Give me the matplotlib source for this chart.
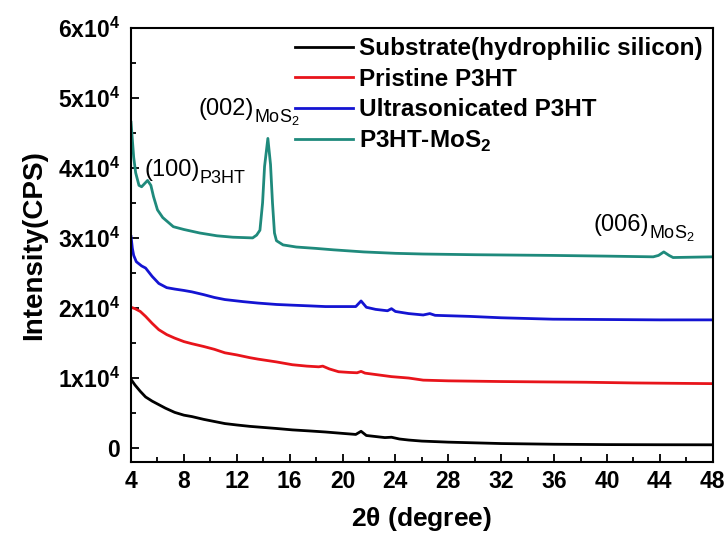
import matplotlib
matplotlib.use('Agg')
import matplotlib.pyplot as plt
from matplotlib.ticker import MultipleLocator

plt.rcParams['font.family'] = ['Liberation Sans', 'DejaVu Sans']
plt.rcParams['mathtext.fontset'] = 'custom'
plt.rcParams['mathtext.rm'] = 'Liberation Sans'
plt.rcParams['mathtext.bf'] = 'Liberation Sans:bold'

# Substrate (hydrophilic silicon)
sub_x = [4.0, 4.3, 4.7, 5.1, 5.6, 6.1, 6.6, 7.3, 8.0, 8.6, 9.5, 10.3, 11.1, 12.0,
         13.0, 14.0, 15.0, 16.2, 17.5, 18.7, 20.0, 21.0, 21.4, 21.8, 22.5, 23.2,
         23.7, 24.3, 25.0, 26.0, 28.0, 30.0, 32.0, 36.0, 40.0, 44.0, 48.0]
sub_y = [9800, 9000, 8100, 7300, 6700, 6200, 5700, 5100, 4700, 4500, 4100, 3800,
         3500, 3300, 3100, 2950, 2800, 2600, 2450, 2300, 2100, 1950, 2400, 1800,
         1650, 1500, 1550, 1300, 1150, 1000, 850, 750, 650, 550, 500, 480, 470]

# Pristine P3HT
pri_x = [4.0, 4.3, 4.7, 5.1, 5.6, 6.1, 6.7, 7.3, 8.0, 8.6, 9.5, 10.3, 11.1, 12.0,
         13.0, 13.6, 15.0, 16.2, 17.3, 18.2, 18.5, 19.0, 19.7, 20.5, 21.1, 21.4,
         21.7, 22.5, 23.7, 25.0, 26.1, 28.0, 30.0, 32.0, 35.0, 38.4, 42.0, 45.0, 48.0]
pri_y = [20100, 19900, 19500, 18800, 17800, 16900, 16200, 15700, 15200, 14900,
         14500, 14100, 13600, 13300, 12900, 12700, 12300, 11900, 11700, 11600,
         11700, 11300, 10900, 10800, 10750, 10950, 10700, 10500, 10200, 10000,
         9700, 9600, 9550, 9500, 9450, 9400, 9300, 9250, 9200]

# Ultrasonicated P3HT
ult_x = [4.0, 4.1, 4.2, 4.4, 4.8, 5.1, 5.6, 6.1, 6.7, 7.3, 8.0, 8.6, 9.5, 10.3,
         11.1, 12.5, 13.6, 15.0, 16.2, 17.5, 18.7, 20.0, 21.0, 21.4, 21.8, 22.5,
         23.4, 23.7, 24.0, 25.0, 26.1, 26.6, 27.0, 29.6, 32.0, 35.9, 40.0, 44.0, 48.0]
ult_y = [30200, 28500, 27500, 26600, 26000, 25700, 24500, 23500, 22900, 22700,
         22500, 22300, 21900, 21500, 21200, 20900, 20700, 20500, 20400, 20300,
         20200, 20200, 20200, 21000, 20100, 19800, 19600, 19900, 19500, 19200,
         19000, 19200, 18950, 18800, 18600, 18400, 18350, 18300, 18300]

# P3HT-MoS2
mos_x = [4.0, 4.1, 4.2, 4.35, 4.6, 4.8, 5.0, 5.25, 5.5, 5.7, 6.0, 6.4, 7.2, 8.0,
         9.2, 10.5, 11.7, 13.2, 13.5, 13.75, 13.95, 14.1, 14.35, 14.55, 14.7,
         14.85, 15.0, 15.5, 16.5, 18.0, 19.3, 21.6, 24.0, 26.1, 30.0, 35.9, 40.0,
         43.5, 43.9, 44.3, 44.7, 45.0, 48.0]
mos_y = [46500, 44000, 41500, 39300, 37500, 37300, 37700, 38200, 37500, 35900,
         34000, 32900, 31600, 31200, 30700, 30300, 30100, 30000, 30400, 31100,
         35000, 40200, 44200, 40500, 35000, 30700, 29600, 29000, 28700, 28500,
         28300, 28000, 27800, 27700, 27600, 27500, 27400, 27300, 27500, 28000,
         27500, 27200, 27300]

labels = ['Substrate(hydrophilic silicon)', 'Pristine P3HT',
          'Ultrasonicated P3HT', r'P3HT-MoS$_{\mathbf{2}}$']
colors = ['black', '#e8141b', '#1414d2', '#1f8a7c']

y_ticks = [0, 10000, 20000, 30000, 40000, 50000, 60000]
y_tick_labels = ['0'] + [r'%dx10$^{\mathbf{4}}$' % i for i in range(1, 7)]
x_ticks = list(range(4, 49, 4))

# peak labels: (main text, subscript, x, y baseline)
peaks = [('(100)', 'P3HT', 5.0, 38800),
         ('(002)', r'MoS$_{\mathrm{2}}$', 9.1, 47600),
         ('(006)', r'MoS$_{\mathrm{2}}$', 39.0, 31000)]

fig = plt.figure(figsize=(7.28, 5.33), dpi=100)
ax = fig.add_axes([0.180, 0.133, 0.799, 0.815])

series = [(sub_x, sub_y), (pri_x, pri_y), (ult_x, ult_y), (mos_x, mos_y)]
for (xs, ys), lab, c in zip(series, labels, colors):
    ax.plot(xs, ys, color=c, lw=2.0, label=lab)

ax.set_xlim(4, 48)
ax.set_ylim(-2000, 60000)
ax.set_xticks(x_ticks)
ax.xaxis.set_minor_locator(MultipleLocator(2))
ax.set_yticks(y_ticks)
ax.set_yticklabels(y_tick_labels)
ax.yaxis.set_minor_locator(MultipleLocator(5000))
ax.tick_params(which='both', direction='in', width=1.3, labelsize=16.5)
ax.tick_params(which='major', length=6)
ax.tick_params(which='minor', length=3.5)
ax.tick_params(axis='y', pad=8)
ax.tick_params(axis='x', pad=6)
for lab in ax.get_xticklabels() + ax.get_yticklabels():
    lab.set_fontweight('bold')
for sp in ax.spines.values():
    sp.set_linewidth(1.5)

ax.set_xlabel(r'2$\mathbf{\theta}$ (degree)', fontsize=19, fontweight='bold',
              labelpad=8)
ax.set_ylabel('Intensity(CPS)', fontsize=20, fontweight='bold', labelpad=8)

for main, sub, px, py in peaks:
    t = ax.text(px, py, main, fontsize=17)
    ax.annotate(sub, xy=(1.0, 0.12), xycoords=t, fontsize=13,
                ha='left', va='center')

leg = ax.legend(loc='upper right', frameon=False, fontsize=17.5,
                handlelength=2.4, handletextpad=0.25, labelspacing=0.3,
                borderaxespad=0.0)
for t in leg.get_texts():
    t.set_fontweight('bold')

fig.savefig('out.png', dpi=100)
